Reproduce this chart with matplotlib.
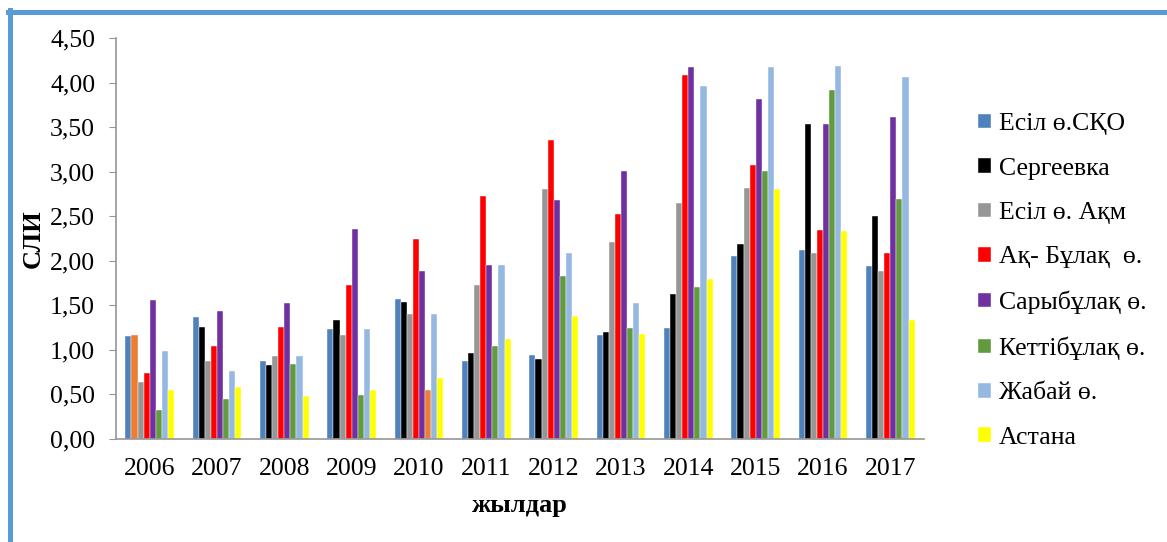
import numpy as np
import matplotlib
matplotlib.use("Agg")
from matplotlib import pyplot as plt
from matplotlib.lines import Line2D
from matplotlib.patches import Patch

plt.rcParams['font.family'] = ['Liberation Serif', 'DejaVu Serif']

years = ['2006', '2007', '2008', '2009', '2010', '2011',
         '2012', '2013', '2014', '2015', '2016', '2017']

series_names = ['Есіл ө.СҚО', 'Сергеевка', 'Есіл ө. Ақм', 'Ақ- Бұлақ  ө.',
                'Сарыбұлақ ө.', 'Кеттібұлақ ө.', 'Жабай ө.', 'Астана']

esil_sko    = [1.16, 1.37, 0.87, 1.24, 1.57, 0.87, 0.94, 1.17, 1.25, 2.05, 2.12, 1.94]
sergeevka   = [1.17, 1.26, 0.83, 1.33, 1.54, 0.97, 0.90, 1.20, 1.63, 2.19, 3.53, 2.50]
esil_akm    = [0.64, 0.87, 0.93, 1.17, 1.40, 1.73, 2.80, 2.21, 2.65, 2.82, 2.09, 1.89]
ak_bulak    = [0.74, 1.04, 1.26, 1.73, 2.25, 2.73, 3.36, 2.52, 4.08, 3.07, 2.35, 2.09]
sarybulak   = [1.56, 1.44, 1.53, 2.36, 1.89, 1.95, 2.68, 3.01, 4.18, 3.82, 3.53, 3.61]
kettibulak  = [0.32, 0.45, 0.84, 0.49, 0.55, 1.04, 1.83, 1.25, 1.71, 3.01, 3.92, 2.69]
zhabai      = [0.99, 0.76, 0.93, 1.23, 1.40, 1.95, 2.09, 1.53, 3.96, 4.18, 4.19, 4.06]
astana      = [0.55, 0.58, 0.48, 0.55, 0.68, 1.12, 1.38, 1.18, 1.79, 2.81, 2.33, 1.34]

values = [esil_sko, sergeevka, esil_akm, ak_bulak, sarybulak, kettibulak, zhabai, astana]
colors = ['#4F81BD', '#000000', '#969696', '#FF0000',
          '#7030A0', '#619A3F', '#95B8E1', '#FFFF00']

# single points that were drawn in a different colour: (series, year index)
overrides = {(1, 0): '#ED7D31', (5, 4): '#ED7D31'}

fig = plt.figure(figsize=(11.67, 5.42), dpi=100)
ax = fig.add_axes([116 / 1167, 103 / 542, 808 / 1167, 401 / 542])

x = np.arange(len(years))
bw = 0.09
for i, (vals, col) in enumerate(zip(values, colors)):
    pos = x + (i - 3.5) * bw
    bars = ax.bar(pos, vals, width=bw, color=col,
                  edgecolor='white', linewidth=0.3)
    for (s, yi), c in overrides.items():
        if s == i:
            bars[yi].set_facecolor(c)

ax.set_xlim(-0.5, len(years) - 0.5)
ax.set_ylim(0, 4.5)
ax.set_yticks(np.arange(0, 4.51, 0.5))
ax.yaxis.set_major_formatter(plt.FuncFormatter(lambda v, p: ('%.2f' % v).replace('.', ',')))
ax.set_xticks(x)
ax.set_xticklabels(years)

for s in ['top', 'right']:
    ax.spines[s].set_visible(False)
for s in ['left', 'bottom']:
    ax.spines[s].set_color('#969696')
    ax.spines[s].set_linewidth(1.2)

ax.tick_params(axis='y', length=5, color='#969696', labelsize=18.5, pad=10)
ax.tick_params(axis='x', length=0, labelsize=18.5, pad=14)

ax.set_ylabel('СЛИ', fontsize=19, fontweight='bold', labelpad=4)
ax.set_xlabel('жылдар', fontsize=19, fontweight='bold', labelpad=10)

# legend uses plain series colours, not the per-point overrides
handles = [Patch(facecolor=c, edgecolor='white', linewidth=0.3) for c in colors]
ax.legend(handles, series_names, loc='upper left',
          bbox_to_anchor=(968 / 1167, 1 - 103 / 542),
          bbox_transform=fig.transFigure, frameon=False, fontsize=18.5,
          handlelength=0.5, handleheight=0.5, handletextpad=0.3,
          labelspacing=0.87, borderaxespad=0)

# blue chart-area border, left and top edges
fig.add_artist(Line2D([10 / 1167, 10 / 1167], [0, 1 - 10 / 542],
                      transform=fig.transFigure, color='#5B9BD5', linewidth=3.6))
fig.add_artist(Line2D([8 / 1167, 1], [1 - 11.5 / 542, 1 - 11.5 / 542],
                      transform=fig.transFigure, color='#5B9BD5', linewidth=3.6))

fig.savefig('out.png', dpi=100)
